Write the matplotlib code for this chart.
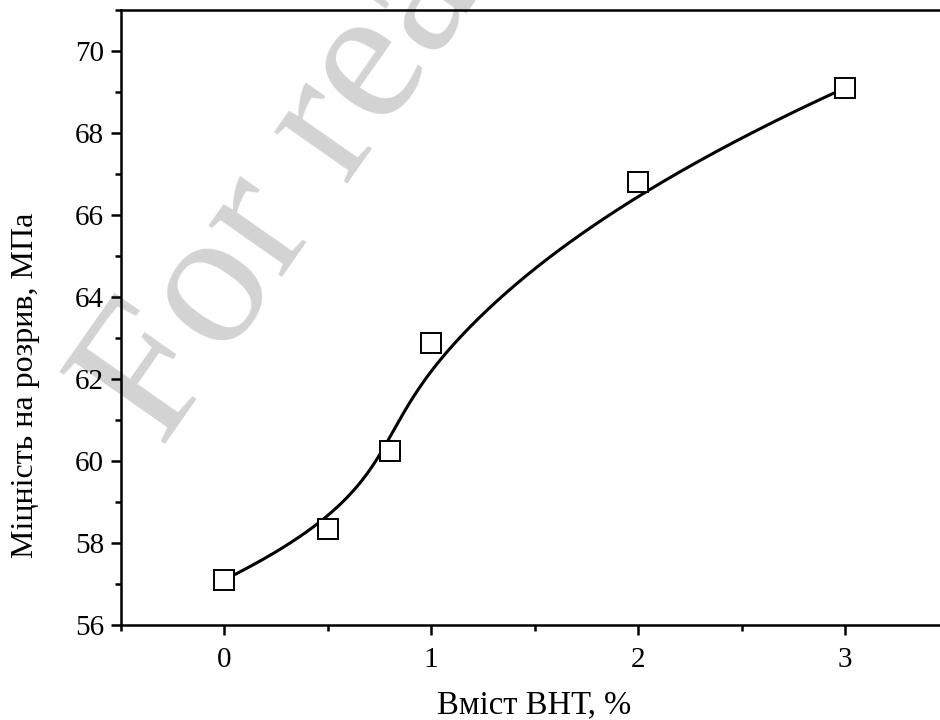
import numpy as np
import matplotlib.pyplot as plt
from matplotlib.ticker import MultipleLocator

plt.rcParams['font.family'] = ['Liberation Serif', 'DejaVu Serif']

# data
bht_content = [0, 0.5, 0.8, 1.0, 2.0, 3.0]
strength = [57.1, 58.35, 60.25, 62.87, 66.8, 69.1]


# Origin-style B-spline connection: data points used as control points
def bspline(px, py, n=400, k=3):
    pts = np.column_stack([px, py])
    m = len(pts)
    inner = np.linspace(0, 1, m - k + 1)
    knots = np.concatenate([[0] * k, inner, [1] * k])
    t = np.linspace(0, 1, n)
    t[-1] -= 1e-10
    out = np.zeros((n, 2))
    for j, tt in enumerate(t):
        # Cox-de Boor
        N = np.array([1.0 if knots[i] <= tt < knots[i + 1] else 0.0
                      for i in range(len(knots) - 1)])
        for d in range(1, k + 1):
            Nn = np.zeros(len(knots) - 1 - d)
            for i in range(len(Nn)):
                a = 0.0
                if knots[i + d] != knots[i]:
                    a = (tt - knots[i]) / (knots[i + d] - knots[i]) * N[i]
                b = 0.0
                if knots[i + d + 1] != knots[i + 1]:
                    b = (knots[i + d + 1] - tt) / (knots[i + d + 1] - knots[i + 1]) * N[i + 1]
                Nn[i] = a + b
            N = Nn
        out[j] = N @ pts
    return out[:, 0], out[:, 1]


fig = plt.figure(figsize=(9.4, 7.2), dpi=100)
ax = fig.add_axes([0.1284, 0.132, 0.8806, 0.854])
ax.set_facecolor('none')

# faint watermark behind everything
fig.text(0.173, 0.376, 'For reading only', fontsize=141, color='#d3d3d3',
         rotation=55, rotation_mode='anchor', ha='left', va='baseline', zorder=-1)

cx, cy = bspline(bht_content, strength)
ax.plot(cx, cy, color='black', lw=2.2, zorder=2)
ax.plot(bht_content, strength, 's', ms=14.5, mfc='white', mec='black', mew=1.4,
        zorder=3, clip_on=False)

ax.set_xlim(-0.5, 3.5)
ax.set_ylim(56, 71)
ax.xaxis.set_major_locator(MultipleLocator(1))
ax.xaxis.set_minor_locator(MultipleLocator(0.5))
ax.yaxis.set_major_locator(MultipleLocator(2))
ax.yaxis.set_minor_locator(MultipleLocator(1))
ax.tick_params(which='both', direction='out', width=1.8, labelsize=21,
               top=False, right=False)
ax.tick_params(which='major', length=7)
ax.tick_params(axis='x', which='major', pad=9)
ax.tick_params(axis='y', which='major', pad=5)
ax.tick_params(which='minor', length=4)
for s in ax.spines.values():
    s.set_linewidth(1.8)

ax.set_xlabel('Вміст ВНТ, %', fontsize=23.5, labelpad=12)
ax.set_ylabel('Міцність на розрив, МПа', fontsize=23)
ax.yaxis.set_label_coords(-0.0975, 0.39)

fig.savefig('out.png', dpi=100)
